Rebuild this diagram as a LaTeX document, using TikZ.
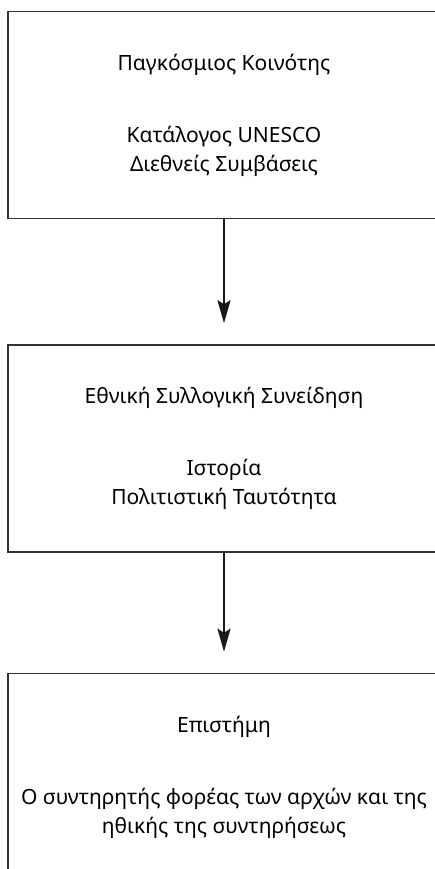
\documentclass[tikz,border=0pt]{standalone}
\usepackage{fontspec}
\setmainfont{Noto Sans}
\usetikzlibrary{positioning,arrows.meta}

\begin{document}
\begin{tikzpicture}[x=1pt,y=-1pt,
    stage/.style={draw=black!80, line width=1.5pt, minimum width=432pt, minimum height=207pt,
        inner sep=0pt, align=center, font=\fontsize{21}{29}\selectfont},
    flow/.style={-{Stealth[length=23pt,width=13pt,inset=4pt]}, line width=2.4pt, black!90, shorten >=21pt}]
    \useasboundingbox (0,0) rectangle (435,869);
    \clip (0,0) rectangle (435,869);

    % World level
    \node[stage] (world) at (224,115) {Παγκόσμιος Κοινότης\\[43pt]Κατάλογος UNESCO\\Διεθνείς Συμβάσεις};
    % National level
    \node[stage, below=125pt of world] (nation) {Εθνική Συλλογική Συνείδηση\\[43pt]Ιστορία\\Πολιτιστική Ταυτότητα};
    % Science
    \node[stage, below=120pt of nation] (science) {Επιστήμη\\[43pt]Ο συντηρητής φορέας των αρχών και της\\ηθικής της συντηρήσεως};

    \draw[flow] (world) -- (nation);
    \draw[flow] (nation) -- (science);
\end{tikzpicture}
\end{document}
